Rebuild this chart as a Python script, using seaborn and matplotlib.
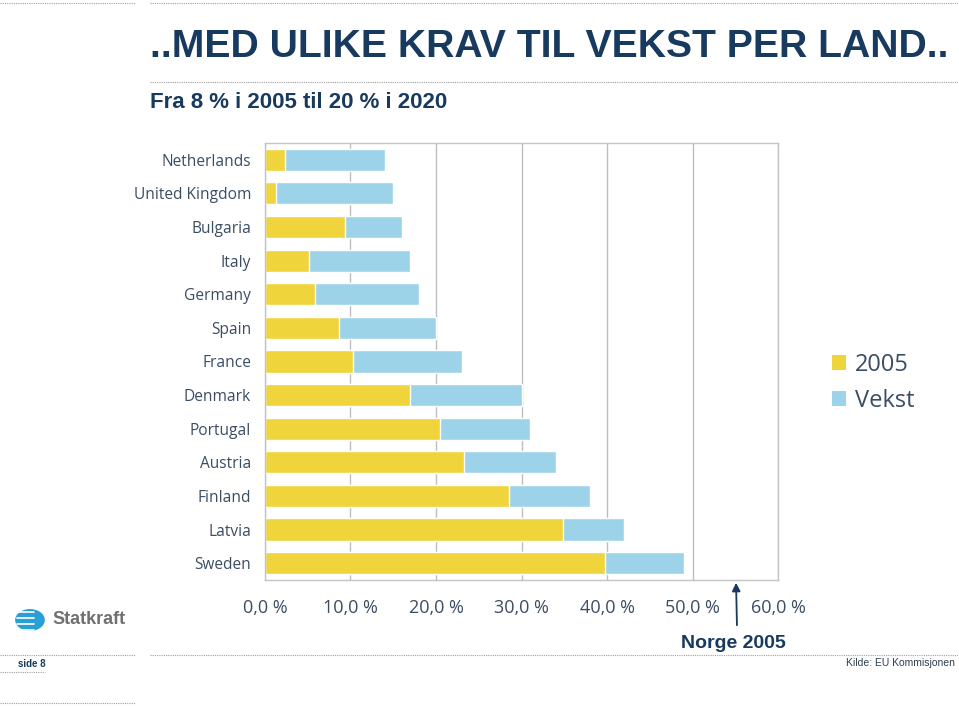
import numpy as np
import pandas as pd
import seaborn as sns
import matplotlib.pyplot as plt
from matplotlib.lines import Line2D
from matplotlib.patches import Patch, Circle

# data (percent renewable share)
countries = ["Netherlands", "United Kingdom", "Bulgaria", "Italy", "Germany", "Spain",
             "France", "Denmark", "Portugal", "Austria", "Finland", "Latvia", "Sweden"]
andel_2005 = [2.4, 1.3, 9.4, 5.2, 5.8, 8.7, 10.3, 17.0, 20.5, 23.3, 28.5, 34.9, 39.8]
mal_2020 = [14, 15, 16, 17, 18, 20, 23, 30, 31, 34, 38, 42, 49]
vekst = [m - a for m, a in zip(mal_2020, andel_2005)]
xticks = [0, 10, 20, 30, 40, 50, 60]
xticklabels = ["0,0 %", "10,0 %", "20,0 %", "30,0 %", "40,0 %", "50,0 %", "60,0 %"]

df = pd.DataFrame({"land": countries, "a2005": andel_2005, "total": mal_2020, "vekst": vekst})

sns.set_style("white")
plt.rcParams["font.family"] = ["Liberation Sans", "DejaVu Sans"]

navy = "#173a5e"
yellow = "#f0d43c"
blue = "#9dd3e8"

fig = plt.figure(figsize=(9.59, 7.06), dpi=100)
ax = fig.add_axes([0.2763, 0.1785, 0.535, 0.619])

# stacked: total first (blue), then 2005 share over it (yellow)
sns.barplot(data=df, y="land", x="total", color=blue, orient="h", width=0.66,
            saturation=1, ax=ax)
sns.barplot(data=df, y="land", x="a2005", color=yellow, orient="h", width=0.66,
            saturation=1, ax=ax)

ax.set_xlim(0, 60)
ax.set_ylim(12.5, -0.5)
ax.set_xticks(xticks)
ax.set_xticklabels(xticklabels, fontsize=13, color="#3b4d63")
ax.set_xlabel("")
ax.set_ylabel("")
ax.tick_params(axis="x", length=0, pad=14)
ax.tick_params(axis="y", length=0, pad=10, labelsize=11.2, labelcolor="#3b4d63")
for t in ax.get_yticklabels():
    t.set_family(["Open Sans", "DejaVu Sans"])
for t in ax.get_xticklabels():
    t.set_family(["Open Sans", "DejaVu Sans"])
ax.grid(axis="x", color="#bdbdbd", linewidth=1)
ax.set_axisbelow(True)
for s in ax.spines.values():
    s.set_color("#c4c4c4")
    s.set_linewidth(1)

# legend
handles = [Patch(facecolor=yellow, edgecolor="none"), Patch(facecolor=blue, edgecolor="none")]
leg = fig.legend(handles, ["2005", "Vekst"], loc="center left", bbox_to_anchor=(0.845, 0.458),
                 frameon=False, fontsize=17, handlelength=0.6, handleheight=0.6,
                 handletextpad=0.4, labelspacing=0.5)
for t in leg.get_texts():
    t.set_color("#3b4d63")
    t.set_family(["Open Sans", "DejaVu Sans"])

# titles
fig.text(150 / 959, 1 - 47 / 706, "..MED ULIKE KRAV TIL VEKST PER LAND..", fontsize=28.2,
         fontweight="bold", color=navy, va="center", ha="left")
fig.text(150 / 959, 1 - 103 / 706, "Fra 8 % i 2005 til 20 % i 2020", fontsize=16,
         fontweight="bold", color=navy, va="center", ha="left")

# dotted separator lines
def hline(y, x0, x1):
    fig.add_artist(Line2D([x0 / 959, x1 / 959], [1 - y / 706, 1 - y / 706],
                          color="#a0a0a0", linestyle=(0, (1, 1)), linewidth=0.8))

hline(3, 0, 135)
hline(3, 150, 959)
hline(82, 150, 959)
hline(655, 0, 135)
hline(655, 150, 959)
hline(672, 0, 45)
hline(703, 0, 135)

# Norge annotation
fig.text(733 / 959, 1 - 643 / 706, "Norge 2005", fontsize=14, fontweight="bold",
         color=navy, ha="center", va="center")
ax.annotate("", xy=(736 / 959, 1 - 580 / 706), xytext=(737 / 959, 1 - 628 / 706),
            xycoords="figure fraction", textcoords="figure fraction",
            arrowprops=dict(arrowstyle="-|>", color=navy, lw=1.3, mutation_scale=12))

# footer
fig.text(18 / 959, 1 - 664 / 706, "side 8", fontsize=7, fontweight="bold", color=navy,
         va="center", ha="left")
fig.text(955 / 959, 1 - 663 / 706, "Kilde: EU Kommisjonen", fontsize=7.5, color="#2d3e50",
         va="center", ha="right")

# Statkraft logo
fig.add_artist(Circle((30 / 959, 1 - 620 / 706), 0.0155, transform=fig.transFigure,
                      facecolor="#2a9fd6", edgecolor="none"))
for yy in [612, 618, 624, 630]:
    fig.add_artist(Line2D([17 / 959, 34 / 959], [1 - yy / 706, 1 - yy / 706],
                          color="white", linewidth=1.2))
fig.text(52 / 959, 1 - 620 / 706, "Statkraft", fontsize=13, fontweight="bold",
         color="#707070", va="center", ha="left")

fig.savefig("out.png", dpi=100)
